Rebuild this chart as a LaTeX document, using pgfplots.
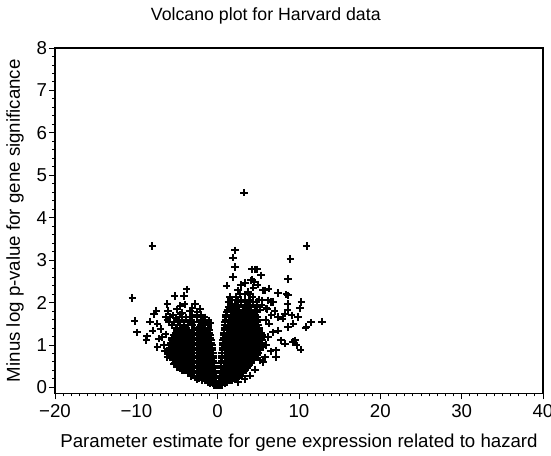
\documentclass[border=0pt]{standalone}
\usepackage{fontspec}
\setmainfont{Liberation Sans}
\usepackage{pgfplots}
\pgfplotsset{compat=1.18}
\pgfplotsset{volc/.style={only marks, mark=+, mark size=2.8pt, line width=1.5pt, black}}
\begin{document}
\begin{tikzpicture}
\begin{axis}[
  scale only axis, width=366pt, height=259pt,
  xmin=-20, xmax=40, ymin=-0.14, ymax=8,
  xtick={-20,-10,0,10,20,30,40},
  xticklabels={−20,−10,0,10,20,30,40},
  ytick={0,1,2,3,4,5,6,7,8},
  minor x tick num=9, minor y tick num=4,
  tick pos=left, tick align=outside,
  major tick length=4.5pt, minor tick length=2.2pt,
  every tick/.style={black, line width=0.7pt},
  axis line style={line width=0.9pt},
  /pgf/number format/assume math mode=true,
  ticklabel style={font=\fontsize{14}{16}\selectfont},
  yticklabel style={xshift=2pt},
  label style={font=\fontsize{14}{16}\selectfont},
  xlabel={Parameter estimate for gene expression related to hazard},
  ylabel={Minus log p-value for gene significance},
  title={Volcano plot for Harvard data},
  title style={font=\fontsize{13.3}{16}\selectfont, at={(axis description cs:0.432,1.07)}, anchor=center},
  xlabel style={at={(axis description cs:0.5,-0.142)}, anchor=center},
  ylabel style={at={(axis description cs:-0.082,0.5)}, anchor=center},
]
\coordinate (sw) at (rel axis cs:0,0);
\coordinate (ne) at (rel axis cs:1,1);
% left lobe
\addplot[volc] coordinates {
(0,0.04)(-0.25,0.05)(0.25,0.05)(-0.5,0.06)(0.5,0.06)
(-0.15,0.09)(-0.55,0.09)(-0.9,0.10)(-1.2,0.11)
(-0.15,0.15)(-0.6,0.15)(-1.1,0.15)(-1.6,0.16)(-1.9,0.17)
(-0.2,0.21)(-0.5,0.21)(-0.85,0.21)(-1.35,0.21)(-1.85,0.21)(-2.35,0.22)(-2.6,0.23)
(-0.25,0.27)(-0.6,0.27)(-1.1,0.27)(-1.6,0.27)(-2.1,0.27)(-2.6,0.27)(-3.0,0.28)(-3.2,0.30)
(-0.3,0.33)(-0.85,0.33)(-1.35,0.33)(-1.85,0.33)(-2.35,0.33)(-2.85,0.33)(-3.35,0.33)(-3.7,0.34)
(-0.35,0.39)(-0.6,0.39)(-1.1,0.39)(-1.6,0.39)(-2.1,0.39)(-2.6,0.39)(-3.1,0.39)(-3.6,0.39)(-4.1,0.40)
(-0.38,0.45)(-0.85,0.45)(-1.35,0.45)(-1.85,0.45)(-2.35,0.45)(-2.85,0.45)(-3.35,0.45)(-3.85,0.45)(-4.35,0.45)(-4.6,0.46)
(-0.4,0.51)(-0.6,0.51)(-1.1,0.51)(-1.6,0.51)(-2.1,0.51)(-2.6,0.51)(-3.1,0.51)(-3.6,0.51)(-4.1,0.51)(-4.6,0.51)(-5.0,0.52)
(-0.45,0.57)(-0.85,0.57)(-1.35,0.57)(-1.85,0.57)(-2.35,0.57)(-2.85,0.57)(-3.35,0.57)(-3.85,0.57)(-4.35,0.57)(-4.85,0.57)(-5.3,0.58)
(-0.48,0.63)(-1.1,0.63)(-1.6,0.63)(-2.1,0.63)(-2.6,0.63)(-3.1,0.63)(-3.6,0.63)(-4.1,0.63)(-4.6,0.63)(-5.1,0.63)(-5.55,0.64)
(-0.52,0.69)(-0.85,0.69)(-1.35,0.69)(-1.85,0.69)(-2.35,0.69)(-2.85,0.69)(-3.35,0.69)(-3.85,0.69)(-4.35,0.69)(-4.85,0.69)(-5.35,0.69)(-5.75,0.70)
(-0.56,0.75)(-1.1,0.75)(-1.6,0.75)(-2.1,0.75)(-2.6,0.75)(-3.1,0.75)(-3.6,0.75)(-4.1,0.75)(-4.6,0.75)(-5.1,0.75)(-5.6,0.75)(-5.85,0.76)
(-0.6,0.81)(-0.95,0.81)(-1.35,0.81)(-1.85,0.81)(-2.35,0.81)(-2.85,0.81)(-3.35,0.81)(-3.85,0.81)(-4.35,0.81)(-4.85,0.81)(-5.35,0.81)(-5.85,0.81)(-6.1,0.82)
(-0.64,0.87)(-1.1,0.87)(-1.6,0.87)(-2.1,0.87)(-2.6,0.87)(-3.1,0.87)(-3.6,0.87)(-4.1,0.87)(-4.6,0.87)(-5.1,0.87)(-5.6,0.87)(-5.95,0.88)
(-0.68,0.93)(-1.0,0.93)(-1.35,0.93)(-1.85,0.93)(-2.35,0.93)(-2.85,0.93)(-3.35,0.93)(-3.85,0.93)(-4.35,0.93)(-4.85,0.93)(-5.35,0.93)(-5.85,0.93)
(-0.72,0.99)(-1.1,0.99)(-1.6,0.99)(-2.1,0.99)(-2.6,0.99)(-3.1,0.99)(-3.6,0.99)(-4.1,0.99)(-4.6,0.99)(-5.1,0.99)(-5.6,0.99)(-5.9,1.00)
(-0.78,1.05)(-1.05,1.05)(-1.35,1.05)(-1.85,1.05)(-2.35,1.05)(-2.85,1.05)(-3.35,1.05)(-3.85,1.05)(-4.35,1.05)(-4.85,1.05)(-5.35,1.05)(-5.75,1.05)
(-0.82,1.11)(-1.1,1.11)(-1.6,1.11)(-2.1,1.11)(-2.6,1.11)(-3.1,1.11)(-3.6,1.11)(-4.1,1.11)(-4.6,1.11)(-5.1,1.11)(-5.6,1.11)
(-0.88,1.17)(-1.35,1.17)(-1.85,1.17)(-2.35,1.17)(-2.85,1.17)(-3.35,1.17)(-3.85,1.17)(-4.35,1.17)(-4.85,1.17)(-5.35,1.17)(-5.6,1.17)
(-0.92,1.23)(-1.25,1.23)(-1.6,1.23)(-2.1,1.23)(-2.6,1.23)(-3.1,1.23)(-3.6,1.23)(-4.1,1.23)(-4.6,1.23)(-5.1,1.23)(-5.4,1.23)
(-1.0,1.29)(-1.35,1.29)(-1.85,1.29)(-2.35,1.29)(-2.85,1.29)(-3.35,1.29)(-3.85,1.29)(-4.35,1.29)(-4.85,1.29)(-5.2,1.29)
(-1.05,1.35)(-1.6,1.35)(-2.1,1.35)(-2.6,1.35)(-3.1,1.35)(-3.6,1.35)(-4.1,1.35)(-4.6,1.35)(-5.0,1.35)
(-1.1,1.41)(-1.85,1.41)(-2.35,1.41)(-2.85,1.41)(-3.85,1.41)(-4.35,1.41)(-5.1,1.41)
(-1.2,1.47)(-1.6,1.47)(-2.1,1.47)(-3.1,1.47)(-3.6,1.47)(-4.6,1.47)(-5.6,1.47)
(-0.87,1.51)(-1.35,1.53)(-2.35,1.53)(-2.85,1.53)(-4.1,1.53)(-5.35,1.53)(-6.0,1.54)
(-1.1,1.58)(-1.85,1.59)(-3.35,1.59)(-4.35,1.60)(-4.85,1.59)(-6.2,1.60)
(-1.6,1.65)(-2.6,1.66)(-3.85,1.65)(-5.1,1.64)(-5.9,1.66)
(-2.1,1.71)(-3.1,1.70)(-4.6,1.72)(-5.5,1.70)
(-2.5,1.77)(-3.4,1.79)(-4.4,1.76)(-6.1,1.80)
(-2.2,1.85)(-3.1,1.86)(-5.0,1.84)(-4.6,1.92)
};
% left outer points
\addplot[volc] coordinates {
(-8.04,3.33)(-10.5,2.11)(-10.2,1.56)(-9.9,1.30)(-8.3,1.55)(-8.66,1.20)(-8.75,1.11)
(-7.55,1.80)(-7.8,1.72)(-3.8,2.31)(-5.28,2.15)(-4.12,2.15)(-6.19,1.97)(-2.81,1.97)(-4.05,1.96)
(-8.0,1.34)(-7.0,1.38)(-7.4,1.50)(-6.4,1.66)(-7.4,0.95)(-7.2,1.15)(-6.2,0.71)(-6.4,1.25)
(-6.6,1.0)(-6.9,1.18)(-4.95,0.48)(-5.4,0.55)(-4.4,0.40)(-3.3,0.27)(-2.5,0.18)(-6.5,0.85)
};
% right lobe
\addplot[volc] coordinates {
(0.15,0.09)(0.5,0.09)(0.85,0.10)(1.1,0.11)
(0.15,0.15)(0.6,0.15)(1.1,0.15)(1.5,0.16)(1.75,0.17)
(0.2,0.21)(0.5,0.21)(0.85,0.21)(1.35,0.21)(1.85,0.21)(2.2,0.22)(2.45,0.23)
(0.25,0.27)(0.6,0.27)(1.1,0.27)(1.6,0.27)(2.1,0.27)(2.6,0.27)(2.95,0.28)
(0.3,0.33)(0.85,0.33)(1.35,0.33)(1.85,0.33)(2.35,0.33)(2.85,0.33)(3.15,0.34)
(0.35,0.39)(0.6,0.39)(1.1,0.39)(1.6,0.39)(2.1,0.39)(2.6,0.39)(3.1,0.39)(3.35,0.40)
(0.38,0.45)(0.85,0.45)(1.35,0.45)(1.85,0.45)(2.35,0.45)(2.85,0.45)(3.35,0.45)(3.65,0.46)
(0.4,0.51)(0.75,0.51)(1.1,0.51)(1.6,0.51)(2.1,0.51)(2.6,0.51)(3.1,0.51)(3.6,0.51)(3.9,0.52)
(0.45,0.57)(0.85,0.57)(1.35,0.57)(1.85,0.57)(2.35,0.57)(2.85,0.57)(3.35,0.57)(3.85,0.57)(4.15,0.58)
(0.48,0.63)(1.1,0.63)(1.6,0.63)(2.1,0.63)(2.6,0.63)(3.1,0.63)(3.6,0.63)(4.1,0.63)(4.35,0.64)
(0.5,0.69)(0.85,0.69)(1.35,0.69)(1.85,0.69)(2.35,0.69)(2.85,0.69)(3.35,0.69)(3.85,0.69)(4.35,0.69)(4.6,0.70)
(0.53,0.75)(1.1,0.75)(1.6,0.75)(2.1,0.75)(2.6,0.75)(3.1,0.75)(3.6,0.75)(4.1,0.75)(4.6,0.75)(4.85,0.76)
(0.55,0.81)(0.85,0.81)(1.35,0.81)(1.85,0.81)(2.35,0.81)(2.85,0.81)(3.35,0.81)(3.85,0.81)(4.35,0.81)(4.85,0.81)(5.05,0.82)
(0.57,0.87)(1.1,0.87)(1.6,0.87)(2.1,0.87)(2.6,0.87)(3.1,0.87)(3.6,0.87)(4.1,0.87)(4.6,0.87)(5.05,0.87)
(0.58,0.93)(0.85,0.93)(1.35,0.93)(1.85,0.93)(2.35,0.93)(2.85,0.93)(3.35,0.93)(3.85,0.93)(4.35,0.93)(4.85,0.93)(5.2,0.93)
(0.6,0.99)(1.1,0.99)(1.6,0.99)(2.1,0.99)(2.6,0.99)(3.1,0.99)(3.6,0.99)(4.1,0.99)(4.6,0.99)(5.1,0.99)(5.3,1.0)
(0.63,1.05)(0.95,1.05)(1.35,1.05)(1.85,1.05)(2.35,1.05)(2.85,1.05)(3.35,1.05)(3.85,1.05)(4.35,1.05)(4.85,1.05)(5.35,1.05)
(0.68,1.11)(1.1,1.11)(1.6,1.11)(2.1,1.11)(2.6,1.11)(3.1,1.11)(3.6,1.11)(4.1,1.11)(4.6,1.11)(5.1,1.11)(5.5,1.11)
(0.7,1.17)(1.0,1.17)(1.35,1.17)(1.85,1.17)(2.35,1.17)(2.85,1.17)(3.35,1.17)(3.85,1.17)(4.35,1.17)(4.85,1.17)(5.35,1.17)(5.7,1.18)
(0.75,1.23)(1.1,1.23)(1.6,1.23)(2.1,1.23)(2.6,1.23)(3.1,1.23)(3.6,1.23)(4.1,1.23)(4.6,1.23)(5.1,1.23)(5.5,1.23)
(0.8,1.29)(1.35,1.29)(1.85,1.29)(2.35,1.29)(2.85,1.29)(3.35,1.29)(3.85,1.29)(4.35,1.29)(4.85,1.29)(5.3,1.29)
(0.82,1.35)(1.1,1.35)(1.6,1.35)(2.1,1.35)(2.6,1.35)(3.1,1.35)(3.6,1.35)(4.1,1.35)(4.6,1.35)(5.1,1.35)
(0.85,1.41)(1.35,1.41)(1.85,1.41)(2.35,1.41)(2.85,1.41)(3.35,1.41)(3.85,1.41)(4.35,1.41)(4.85,1.41)(5.1,1.41)
(0.9,1.47)(1.25,1.47)(1.6,1.47)(2.1,1.47)(2.6,1.47)(3.1,1.47)(3.6,1.47)(4.1,1.47)(4.6,1.47)(5.0,1.47)
(0.92,1.53)(1.35,1.53)(1.85,1.53)(2.35,1.53)(2.85,1.53)(3.35,1.53)(3.85,1.53)(4.35,1.53)(4.85,1.53)
(0.95,1.59)(1.6,1.59)(2.1,1.59)(2.6,1.59)(3.1,1.59)(3.6,1.59)(4.1,1.59)(4.6,1.59)(4.95,1.59)
(1.0,1.65)(1.35,1.65)(1.85,1.65)(2.35,1.65)(2.85,1.65)(3.35,1.65)(3.85,1.65)(4.35,1.65)(4.85,1.65)
(1.05,1.71)(1.6,1.71)(2.1,1.71)(2.6,1.71)(3.1,1.71)(3.6,1.71)(4.1,1.71)(4.6,1.71)
(1.1,1.77)(1.85,1.77)(2.35,1.77)(2.85,1.77)(3.35,1.77)(3.85,1.77)(4.35,1.77)(4.85,1.77)
(1.2,1.83)(1.6,1.83)(2.1,1.83)(2.6,1.83)(3.1,1.83)(3.6,1.83)(4.1,1.83)(4.6,1.83)(5.2,1.83)
(1.35,1.89)(1.85,1.89)(2.35,1.89)(3.35,1.89)(3.85,1.89)(4.85,1.89)
(1.6,1.95)(2.1,1.95)(2.9,1.95)(3.6,1.95)(4.4,1.95)(5.4,1.95)
(1.3,2.01)(2.5,2.01)(3.3,2.01)(4.0,2.01)(4.8,2.01)
(1.8,2.07)(2.9,2.07)(3.8,2.07)(5.1,2.07)
(1.5,2.13)(2.2,2.13)(4.3,2.13)
(2.7,2.19)(3.4,2.19)(4.0,2.19)
};
% right outer points
\addplot[volc] coordinates {
(3.22,4.59)(2.14,3.23)(1.86,3.06)(2.14,2.84)(1.86,2.60)(1.11,2.40)
(4.54,2.78)(4.87,2.78)(4.2,2.78)(4.25,2.54)(5.3,2.64)(4.1,2.52)(4.5,2.48)
(3.42,2.46)(2.89,2.41)(2.48,2.29)(5.78,2.29)(3.71,2.25)(5.57,2.29)(6.27,2.33)
(10.93,3.33)(8.95,3.03)(8.66,2.56)(7.4,2.22)(8.46,2.19)(8.66,2.17)
(10.3,2.01)(10.1,1.86)(8.6,1.97)(6.6,2.01)(6.2,2.05)(6.8,2.01)(6.0,1.86)
(7.4,1.66)(8.25,1.74)(8.6,1.82)(9.9,1.66)(9.3,1.50)(9.1,1.70)(8.0,1.62)
(11.5,1.53)(12.8,1.55)(10.8,1.41)(10.9,1.42)(8.66,1.42)(7.4,1.34)
(9.28,1.07)(10.2,0.89)(9.7,0.99)(9.5,1.11)(8.25,1.03)(7.8,1.11)
(7.2,0.72)(7.2,0.87)(6.2,1.19)(5.6,0.95)(5.8,0.71)(5.2,0.64)(5.6,0.60)
(6.0,1.0)(6.3,1.5)(6.6,1.7)(6.1,1.85)(7.0,1.8)(6.8,1.3)(5.9,1.6)(6.5,0.85)
(4.6,0.42)(4.0,0.28)(3.3,0.20)(2.5,0.13)(4.9,2.42)(4.4,2.35)(5.4,2.05)
};
\end{axis}
\pgfresetboundingbox
\path[use as bounding box] ([xshift=-41.25pt,yshift=-46.5pt]sw) rectangle ([xshift=6pt,yshift=36pt]ne);
\end{tikzpicture}
\end{document}
